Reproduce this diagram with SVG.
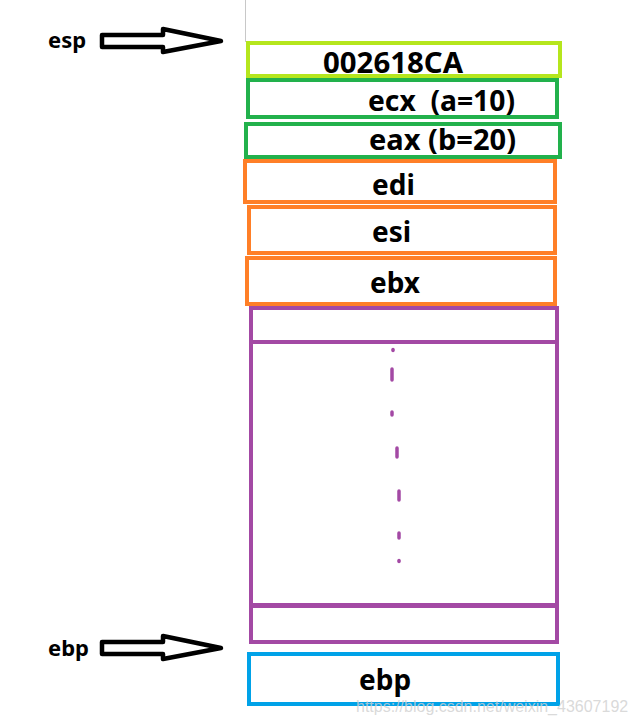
<svg xmlns="http://www.w3.org/2000/svg" width="635" height="718" viewBox="0 0 635 718">
<style>
.box{fill:#fff;stroke-width:4}
.lime{stroke:#b5e61d}
.green{stroke:#22b14c}
.orange{stroke:#ff7f27}
.purple{stroke:#a349a4}
.blue{stroke:#00a2e8}
.t{font-family:"Noto Sans","Open Sans",sans-serif;font-weight:bold;font-size:28px;fill:#000}
.lbl{font-family:"Noto Sans","Open Sans",sans-serif;font-weight:bold;font-size:22px;fill:#000}
.arrow{fill:#fff;stroke:#000;stroke-width:4.5;stroke-linejoin:round}
.dash{stroke:#a349a4;stroke-width:3.5;stroke-linecap:round}
.wm{font-family:"Liberation Sans",Arial,sans-serif;font-size:16px;fill:#d0d0d0;fill-opacity:0.8}
</style>
<rect width="635" height="718" fill="#fff"/>
<line x1="245.5" y1="0" x2="245.5" y2="42" stroke="#c8c8c8" stroke-width="1"/>

<g id="node-ret">
<rect class="box lime" x="248" y="43" width="312" height="33"/>
<text class="t" x="323" y="73" textLength="140" lengthAdjust="spacingAndGlyphs">002618CA</text>
</g>
<g id="node-ecx">
<rect class="box green" x="248" y="80" width="309" height="37"/>
<text class="t" x="368" y="111" xml:space="preserve" textLength="147" lengthAdjust="spacingAndGlyphs">ecx  (a=10)</text>
</g>
<g id="node-eax">
<rect class="box green" x="246" y="124" width="314" height="33"/>
<text class="t" x="369" y="150" textLength="147" lengthAdjust="spacingAndGlyphs">eax (b=20)</text>
</g>
<g id="node-edi">
<rect class="box orange" x="245" y="161" width="310" height="41"/>
<text class="t" x="372" y="195">edi</text>
</g>
<g id="node-esi">
<rect class="box orange" x="249" y="207" width="306" height="46"/>
<text class="t" x="372" y="242">esi</text>
</g>
<g id="node-ebx">
<rect class="box orange" x="247" y="258" width="308" height="46"/>
<text class="t" x="370" y="293">ebx</text>
</g>
<g id="node-locals">
<rect class="box purple" x="251" y="308" width="306" height="297"/>
<line class="purple" x1="251" y1="342" x2="557" y2="342" stroke-width="4"/>
<rect class="box purple" x="251" y="606" width="306" height="36"/>
<g>
<line class="dash" x1="393" y1="349.5" x2="393" y2="350.5"/>
<line class="dash" x1="392" y1="369" x2="392" y2="380"/>
<line class="dash" x1="392" y1="412" x2="392" y2="415"/>
<line class="dash" x1="397" y1="448" x2="397" y2="457"/>
<line class="dash" x1="399" y1="491" x2="399" y2="500"/>
<line class="dash" x1="399" y1="533" x2="399" y2="538"/>
<line class="dash" x1="399" y1="560.5" x2="399" y2="561.5"/>
</g>
</g>
<g id="node-ebp">
<rect class="box blue" x="249" y="654" width="309" height="50"/>
<text class="t" x="359" y="690">ebp</text>
</g>

<g id="label-esp"><text class="lbl" x="48" y="48">esp</text></g>
<g id="label-ebp"><text class="lbl" x="48" y="656">ebp</text></g>

<g id="connectors">
<polygon class="arrow" points="102,35 163,35 163,29 221,41 163,52 163,47 102,47"/>
<polygon class="arrow" points="102,642 163,642 163,636 221,648 163,659 163,654 102,654"/>
</g>

<text class="wm" x="356" y="712">https://blog.csdn.net/weixin_43607192</text>
</svg>
